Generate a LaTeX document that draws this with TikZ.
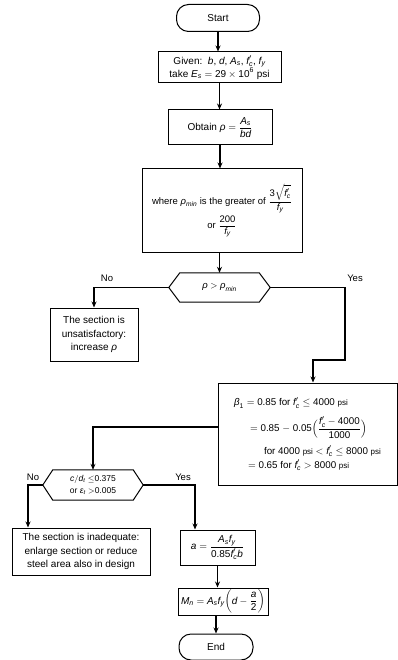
\documentclass[tikz,border=0pt]{standalone}
\usepackage{amsmath}
\usepackage{fontspec}
\setmainfont{Liberation Sans}
\usetikzlibrary{arrows.meta}
\newcommand{\iv}[1]{\textit{#1}}
\newcommand{\psiu}{{\fontsize{8}{9}\selectfont psi}}
\newcommand{\hexa}[2]{\draw[line width=1pt] ([xshift=#2]#1.north west) -- ([xshift=-#2]#1.north east) -- (#1.east) -- ([xshift=-#2]#1.south east) -- ([xshift=#2]#1.south west) -- (#1.west) -- cycle;}
\begin{document}
\begin{tikzpicture}[x=1pt,y=-1pt,
  box/.style={draw,line width=1pt,align=center,inner sep=2pt,font=\fontsize{10}{13.5}\selectfont},
  term/.style={box,rounded corners=12pt},
  dec/.style={inner sep=0pt,align=center},
  flow/.style={line width=1.6pt,-{Stealth[length=6pt,width=5pt]}},
  lbl/.style={font=\fontsize{9.5}{11}\selectfont}]
\useasboundingbox (0,0) rectangle (398,660);
\fill[white] (0,0) rectangle (398,660);

\node[term,minimum width=83pt,minimum height=27pt] (start) at (218,18) {Start};
\node[box,minimum width=123pt,minimum height=31pt,font=\fontsize{10}{12}\selectfont] (given) at (219.5,67.5)
  {Given:\ \ $\iv{b}$, $\iv{d}$, $\iv{A}_{\iv{s}}$, $\iv{f}'_{\iv{c}}$, $\iv{f}_{\iv{y}}$\\
   take $\iv{E}_{\iv{s}} = \text{29}\times\text{10}^{\text{6}}$ psi};
\node[box,minimum width=104pt,minimum height=35pt] (obtain) at (220,127.5)
  {Obtain $\iv{ρ} = \dfrac{\iv{A}_{\iv{s}}}{\iv{bd}}$};
\node[box,minimum width=160pt,minimum height=83pt,font=\fontsize{9.5}{13}\selectfont] (where) at (222,210.5)
  {where $\iv{ρ}_{\iv{min}}$ is the greater of $\dfrac{\text{3}\sqrt{\iv{f}'_{\iv{c}}}}{\iv{f}_{\iv{y}}}$\\[2pt]
   or $\dfrac{\text{200}}{\iv{f}_{\iv{y}}}$};

\node[dec,minimum width=101pt,minimum height=29pt,font=\fontsize{9.5}{11}\selectfont] (dec1) at (219.5,287.5)
  {$\iv{ρ} > \iv{ρ}_{\iv{min}}$};
\hexa{dec1}{11pt}

\node[box,minimum width=88pt,minimum height=53pt] (unsat) at (94,334.5)
  {The section is\\ unsatisfactory:\\ increase $\iv{ρ}$};

\node[box,minimum width=179pt,minimum height=102pt,align=left,font=\fontsize{9.8}{14}\selectfont] (beta) at (307.5,434)
  {$\iv{β}_{\text{1}} =$ 0.85 for $\iv{f}'_{\iv{c}} \le$ 4000 \psiu\\[7pt]
   \hspace*{16pt}$=$ 0.85 $-$ 0.05$\Bigl(\dfrac{\iv{f}'_{\iv{c}} - \text{4000}}{\text{1000}}\Bigr)$\\[6pt]
   \hspace*{30pt}for 4000 \psiu\ $< \iv{f}'_{\iv{c}} \le$ 8000 \psiu\\
   \hspace*{14pt}$=$ 0.65 for $\iv{f}'_{\iv{c}} >$ 8000 \psiu};

\node[dec,minimum width=100pt,minimum height=30pt,font=\fontsize{8.5}{12}\selectfont] (dec2) at (93,485)
  {$\iv{c}/\iv{d}_{\iv{t}} \le$0.375\\ or $\iv{ε}_{\iv{t}} >$0.005};
\hexa{dec2}{10pt}

\node[box,minimum width=138pt,minimum height=47pt] (inad) at (81,551.5)
  {The section is inadequate:\\ enlarge section or reduce\\ steel area also in design};
\node[box,minimum width=75pt,minimum height=35pt] (abox) at (217.5,547.5)
  {$\iv{a} = \dfrac{\iv{A}_{\iv{s}}\iv{f}_{\iv{y}}}{\text{0.85}\iv{f}'_{\iv{c}}\iv{b}}$};
\node[box,minimum width=90pt,minimum height=27pt,inner ysep=1pt] (mn) at (223,601.5)
  {$\iv{M}_{\iv{n}} = \iv{A}_{\iv{s}}\iv{f}_{\iv{y}}\biggl(\iv{d} - \dfrac{\iv{a}}{\text{2}}\biggr)$};
\node[term,minimum width=74pt,minimum height=26pt] (end) at (216,647) {End};

\coordinate (yj) at (345,360);
\coordinate (yin) at (313,0);
\coordinate (bl) at (0,427);
\coordinate (nx) at (28,0);
\coordinate (yx) at (195,0);

\draw[flow] (start.south) -- (start.south |- given.north);
\draw[flow] (given.south) -- (given.south |- obtain.north);
\draw[flow] (obtain.south) -- (obtain.south |- where.north);
\draw[flow] (where.south -| dec1.north) -- (dec1.north);
\draw[flow] (dec1.west) -| (unsat.north);
\draw[flow] (dec1.east) -| (yj) -| (beta.north -| yin);
\draw[flow] (beta.west |- bl) -| (dec2.north);
\draw[flow] (dec2.west) -| (inad.north -| nx);
\draw[flow] (dec2.east) -| (abox.north -| yx);
\draw[flow] (abox.south) -- (abox.south |- mn.north);
\draw[flow] (mn.south -| end) -- (end.north);

\node[lbl] (no1) at (107,278) {No};
\node[lbl] (yes1) at (355,278) {Yes};
\node[lbl] (no2) at (33,477) {No};
\node[lbl] (yes2) at (183,477) {Yes};
\end{tikzpicture}
\end{document}
